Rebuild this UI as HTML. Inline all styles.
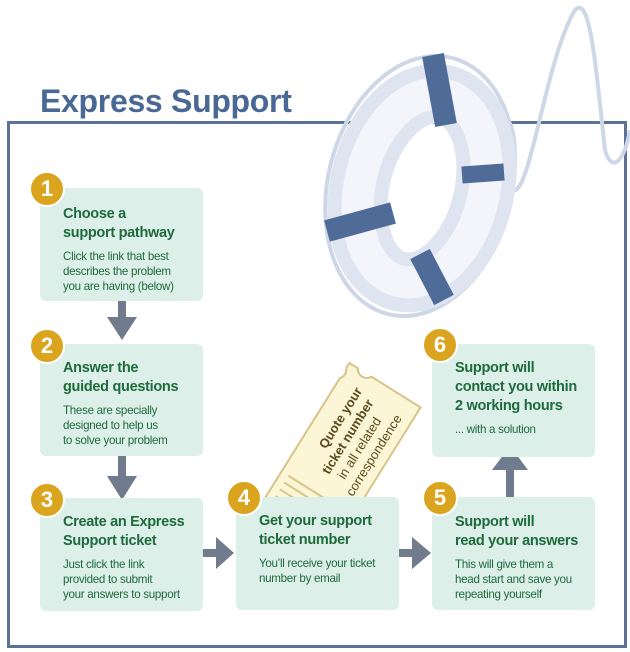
<!DOCTYPE html>
<html><head><meta charset="utf-8"><style>
body{margin:0;width:630px;height:652px;background:#fff;position:relative;overflow:hidden;font-family:"Liberation Sans",sans-serif}
.box{position:absolute;width:163px;background:#dcefe9;border-radius:6px;color:#1f6a3b;box-sizing:border-box;padding-left:23px}
.box h3{margin:0;font-size:14.5px;line-height:19px;font-weight:bold;letter-spacing:-0.3px}
.box p{margin:6px 0 0;font-size:11.6px;line-height:15px;letter-spacing:-0.3px}
.c{position:absolute;width:32px;height:32px;border-radius:50%;background:#dba41f;border:2px solid #fff;color:#fff;font-weight:bold;font-size:22px;line-height:32px;text-align:center}
</style></head><body>
<div style="position:absolute;left:40px;top:83px;font-size:32px;font-weight:bold;color:#4a6894;letter-spacing:-0.3px">Express Support</div>
<div style="position:absolute;left:7px;top:121px;width:614px;height:521px;border:3px solid #5b7196"></div>

<svg style="position:absolute;left:0;top:0" width="630" height="652">
<g fill="none" stroke="#cdd7e7" stroke-width="4">
<ellipse cx="420" cy="186" rx="92" ry="132" transform="rotate(14 420 186)"/>
<path d="M500 120 C520 110 515 180 512 190 C530 200 545 60 575 10 C590 -5 595 60 605 150 C612 175 625 160 630 130"/>
</g>
<g transform="rotate(14 422 188)">
<ellipse cx="422" cy="188" rx="62" ry="96" fill="none" stroke="#dfe5f0" stroke-width="60"/>
<ellipse cx="422" cy="188" rx="62" ry="96" fill="none" stroke="#f3f5fa" stroke-width="32"/>
</g>
<g stroke="#4f6c99" stroke-linecap="butt">
<line x1="433" y1="55" x2="446" y2="125" stroke-width="22"/>
<line x1="462" y1="175" x2="504" y2="172" stroke-width="17"/>
<line x1="327" y1="231" x2="393" y2="213" stroke-width="22"/>
<line x1="420" y1="254" x2="444" y2="300" stroke-width="22"/>
</g>
<g transform="translate(332 470) rotate(-58)">
<path d="M-100 -42 H82 A9 9 0 0 0 94 -42 H100 V-32 A9 9 0 0 0 100 -16 V42 H-100 Z" fill="#fcf5d6" stroke="#d8c48a" stroke-width="2"/>
<g stroke="#d8c48a" stroke-width="2">
<line x1="-60" y1="-34" x2="-60" y2="34"/><line x1="-52" y1="-34" x2="-52" y2="34"/><line x1="-44" y1="-34" x2="-44" y2="34"/><line x1="-36" y1="-34" x2="-36" y2="34"/><line x1="-28" y1="-34" x2="-28" y2="34"/>
</g>
<text x="14" y="-16" font-family="Liberation Sans, sans-serif" font-size="13" font-weight="bold" fill="#5a4a1e">Quote your</text>
<text x="-6" y="0" font-family="Liberation Sans, sans-serif" font-size="13" font-weight="bold" fill="#5a4a1e">ticket number</text>
<text x="-2" y="16" font-family="Liberation Sans, sans-serif" font-size="13" fill="#5a4a1e">in all related</text>
<text x="-12" y="32" font-family="Liberation Sans, sans-serif" font-size="13" fill="#5a4a1e">correspondence</text>
</g>
<g fill="#717b8e">
<rect x="118" y="301" width="8" height="20"/><polygon points="107,317 137,317 122,340"/>
<rect x="118" y="456" width="8" height="24"/><polygon points="107,476 137,476 122,500"/>
<rect x="203" y="549" width="16" height="8"/><polygon points="216,537 216,569 234,553"/>
<rect x="398" y="549" width="16" height="8"/><polygon points="412,537 412,569 431,553"/>
<rect x="506" y="468" width="8" height="30"/><polygon points="492,470 528,470 510,446"/>
</g>
</svg>

<div class="box" style="left:40px;top:188px;height:113px;padding-top:17px"><h3>Choose a<br>support pathway</h3><p>Click the link that best<br>describes the problem<br>you are having (below)</p></div>
<div class="box" style="left:40px;top:344px;height:112px;padding-top:15px"><h3>Answer the<br>guided questions</h3><p>These are specially<br>designed to help us<br>to solve your problem</p></div>
<div class="box" style="left:40px;top:498px;height:113px;padding-top:15px"><h3>Create an Express<br>Support ticket</h3><p>Just click the link<br>provided to submit<br>your answers to support</p></div>
<div class="box" style="left:236px;top:497px;height:113px;padding-top:15px"><h3>Get your support<br>ticket number</h3><p>You’ll receive your ticket<br>number by email</p></div>
<div class="box" style="left:432px;top:497px;height:113px;padding-top:16px"><h3>Support will<br>read your answers</h3><p>This will give them a<br>head start and save you<br>repeating yourself</p></div>
<div class="box" style="left:432px;top:344px;height:113px;padding-top:15px"><h3>Support will<br>contact you within<br>2 working hours</h3><p>... with a solution</p></div>

<div class="c" style="left:29px;top:171px">1</div>
<div class="c" style="left:29px;top:328px">2</div>
<div class="c" style="left:29px;top:482px">3</div>
<div class="c" style="left:226px;top:480px">4</div>
<div class="c" style="left:422px;top:480px">5</div>
<div class="c" style="left:422px;top:327px">6</div>
</body></html>
